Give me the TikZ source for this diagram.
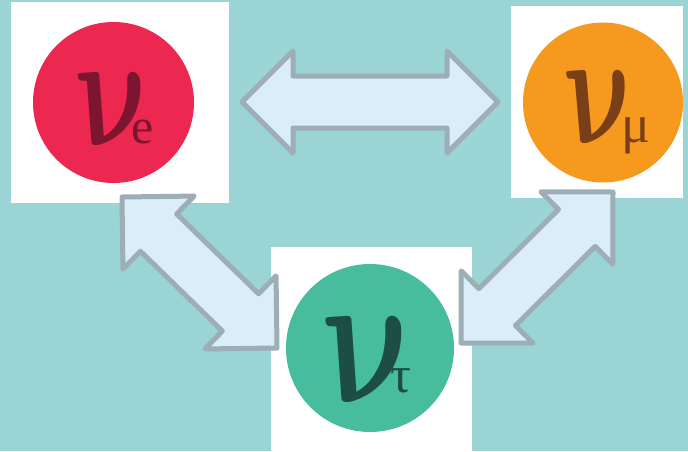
\RequirePackage{fix-cm}
\documentclass[tikz,border=0pt]{standalone}
\usepackage{fontspec}
\setmainfont{Liberation Serif}
\usetikzlibrary{calc}

\definecolor{bgteal}{HTML}{9BD4D4}
\definecolor{nured}{HTML}{EC2850}
\definecolor{nuredtxt}{HTML}{7B1530}
\definecolor{nuorange}{HTML}{F6991F}
\definecolor{nuorangetxt}{HTML}{7B3F17}
\definecolor{nugreen}{HTML}{47BD9D}
\definecolor{nugreentxt}{HTML}{1D4E45}
\definecolor{arrfill}{HTML}{D9EEF8}
\definecolor{arrline}{HTML}{9DAEB6}

% bold nu (cmmib) at a given size
\newcommand{\bignu}[1]{\fontsize{#1}{#1}\usefont{OML}{cmm}{b}{it}\symbol{23}}

% block arrow with two heads, from tip #1 to tip #2
\newcommand{\dblarrow}[2]{%
  \draw[blockarrow] (#1) -- ($(#1)!51pt!(#2)!51pt!90:(#2)$) -- ($(#1)!51pt!(#2)!26pt!90:(#2)$)
    -- ($(#2)!51pt!(#1)!26pt!-90:(#1)$) -- ($(#2)!51pt!(#1)!51pt!-90:(#1)$) -- (#2)
    -- ($(#2)!51pt!(#1)!51pt!90:(#1)$) -- ($(#2)!51pt!(#1)!26pt!90:(#1)$)
    -- ($(#1)!51pt!(#2)!26pt!-90:(#2)$) -- ($(#1)!51pt!(#2)!51pt!-90:(#2)$) -- cycle;}

\begin{document}
\begin{tikzpicture}[x=1pt,y=-1pt]
            \tikzset{wbox/.style = {fill=white, inner sep=0pt}}
            \tikzset{nucirc/.style = {circle, inner sep=0pt}}
            \tikzset{nusym/.style = {inner sep=0pt, xslant=-0.25, xscale=#1, transform shape}}
            \tikzset{nusub/.style = {inner sep=0pt, anchor=base west}}
            \tikzset{blockarrow/.style = {fill=arrfill, draw=arrline, line width=5pt, line join=round}}
            \fill[bgteal] (0,0) rectangle (688,451);
            \useasboundingbox (0,0) rectangle (688,451);

            \node[wbox, minimum width=218pt, minimum height=201pt] (boxe) at (120,102.5) {};
            \node[wbox, minimum width=172pt, minimum height=192pt] (boxmu) at (597,102) {};
            \node[wbox, minimum width=201pt, minimum height=204pt] (boxtau) at (371.5,349) {};

            \node[nucirc, fill=nured, minimum size=161pt] (nue) at (113.5,102.5) {};
            \node[nucirc, fill=nuorange, minimum size=160pt] (numu) at (603,102.5) {};
            \node[nucirc, fill=nugreen, minimum size=168pt] (nutau) at (370,348) {};

            \node[nusym=0.71, text=nuredtxt] (labe) at (112,109) {\bignu{162}};
            \node[nusub, text=nuredtxt, font=\fontsize{50}{50}\selectfont] (sube) at (131,143) {e};
            \node[nusym=0.66, text=nuorangetxt] (labmu) at (598,107) {\bignu{162}};
            \node[nusub, text=nuorangetxt, font=\fontsize{54}{54}\selectfont] (submu) at (621,142) {μ};
            \node[nusym=0.73, text=nugreentxt] (labtau) at (366.5,360) {\bignu{191}};
            \node[nusub, text=nugreentxt, font=\fontsize{52}{52}\selectfont] (subtau) at (390,392) {τ};

            \coordinate (emu-a) at (242,102);
            \coordinate (emu-b) at (498,102);
            \coordinate (etau-a) at (122,197);
            \coordinate (etau-b) at (277,348);
            \coordinate (mutau-a) at (613,192);
            \coordinate (mutau-b) at (461,343);

            \dblarrow{emu-a}{emu-b}
            \dblarrow{etau-a}{etau-b}
            \dblarrow{mutau-a}{mutau-b}
\end{tikzpicture}
\end{document}
